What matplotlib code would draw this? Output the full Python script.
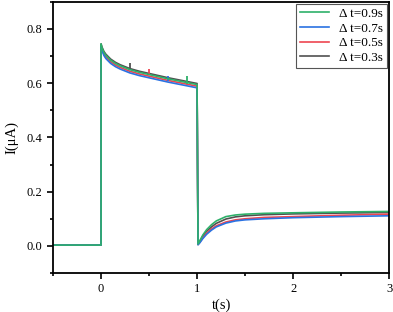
import matplotlib
matplotlib.use('Agg')
import matplotlib.pyplot as plt
from matplotlib.ticker import MultipleLocator

plt.rcParams['font.family'] = ['Liberation Serif', 'DejaVu Serif']

# time grid (s), steps at 0 and 1 are doubled points
t = [-0.5, 0, 0, 0.01, 0.03, 0.05, 0.1, 0.15, 0.2, 0.3, 0.4, 0.5, 0.6, 0.7, 0.8, 0.9,
     1.0, 1.0, 1.01, 1.03, 1.06, 1.1, 1.15, 1.2, 1.3, 1.4, 1.5, 1.7, 2.0, 2.5, 3.0]

# current (uA)
i_03 = [0.003, 0.003, 0.745, 0.733, 0.717, 0.707, 0.689, 0.677, 0.668, 0.654, 0.644, 0.636,
        0.628, 0.620, 0.613, 0.606, 0.599, 0.599, 0.006, 0.018, 0.036, 0.054, 0.070, 0.083,
        0.099, 0.107, 0.111, 0.115, 0.118, 0.121, 0.123]
i_05 = [0.003, 0.003, 0.740, 0.724, 0.707, 0.697, 0.679, 0.667, 0.658, 0.644, 0.634, 0.626,
        0.618, 0.610, 0.603, 0.596, 0.589, 0.589, 0.005, 0.014, 0.030, 0.047, 0.062, 0.074,
        0.088, 0.096, 0.100, 0.105, 0.108, 0.113, 0.117]
i_07 = [0.003, 0.003, 0.738, 0.720, 0.702, 0.691, 0.673, 0.661, 0.652, 0.638, 0.628, 0.620,
        0.612, 0.604, 0.597, 0.590, 0.583, 0.583, 0.004, 0.012, 0.027, 0.043, 0.058, 0.070,
        0.084, 0.092, 0.096, 0.100, 0.104, 0.108, 0.111]
i_09 = [0.003, 0.003, 0.745, 0.730, 0.713, 0.703, 0.685, 0.673, 0.664, 0.650, 0.640, 0.632,
        0.624, 0.616, 0.609, 0.602, 0.595, 0.595, 0.007, 0.020, 0.040, 0.060, 0.078, 0.092,
        0.108, 0.114, 0.117, 0.120, 0.122, 0.125, 0.127]

# small marks at the interval times
mark_t = [0.3, 0.5, 0.7, 0.9]
mark_lo = [0.650, 0.630, 0.608, 0.598]
mark_hi = [0.676, 0.654, 0.626, 0.628]

labels = ['Δ t=0.3s', 'Δ t=0.5s', 'Δ t=0.7s', 'Δ t=0.9s']
colors = ['#505050', '#ee4550', '#2a72e2', '#2eb06a']
series = [i_03, i_05, i_07, i_09]

fig = plt.figure(figsize=(3.93, 3.12), dpi=100)
ax = fig.add_axes([0.135, 0.125, 0.855, 0.869])

lines = []
for k in range(4):
    ln, = ax.plot(t, series[k], color=colors[k], lw=1.2, label=labels[k])
    ax.vlines(mark_t[k], mark_lo[k], mark_hi[k], color=colors[k], lw=1.3)
    lines.append(ln)

ax.set_xlim(-0.5, 3)
ax.set_ylim(-0.1, 0.9)
ax.xaxis.set_major_locator(MultipleLocator(1))
ax.xaxis.set_minor_locator(MultipleLocator(0.5))
ax.yaxis.set_major_locator(MultipleLocator(0.2))
ax.yaxis.set_minor_locator(MultipleLocator(0.1))
ax.yaxis.set_major_formatter(plt.FormatStrFormatter('%.1f'))
ax.tick_params(which='major', direction='out', length=4, width=1.2, labelsize=9)
ax.tick_params(which='minor', direction='out', length=2, width=1.2)
for s in ax.spines.values():
    s.set_linewidth(1.3)

ax.set_xlabel('t(s)', fontsize=10.5, labelpad=2)
ax.set_ylabel('I(μA)', fontsize=10.5, labelpad=6)

leg = ax.legend(lines[::-1], labels[::-1], loc='upper right', fontsize=9.5,
                fancybox=False, edgecolor='#555555', framealpha=1,
                borderaxespad=0.15, handlelength=2.2, labelspacing=0.18,
                borderpad=0.3, handletextpad=0.8)
leg.get_frame().set_linewidth(0.8)

fig.savefig('out.png', dpi=100)
